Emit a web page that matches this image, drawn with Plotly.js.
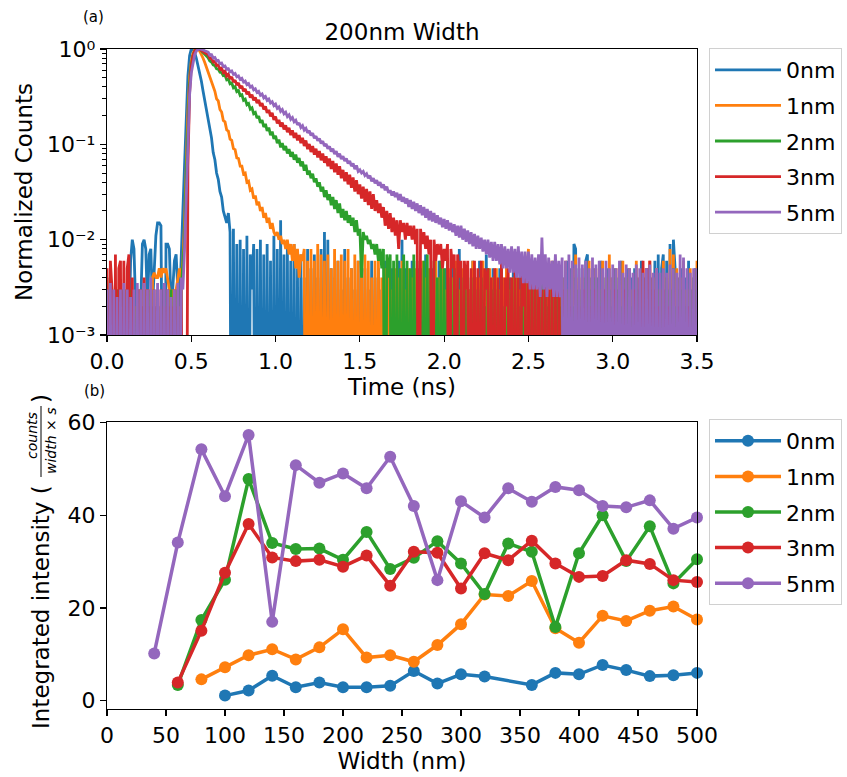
<!DOCTYPE html>
<html>
<head>
<meta charset="utf-8">
<script src="https://cdn.plot.ly/plotly-3.0.1.min.js"></script>
<style>
  html, body { margin: 0; padding: 0; background: #ffffff; }
  #chart { width: 847px; height: 777px; }
</style>
</head>
<body>
<div id="chart"></div>
<script>
// ---------------- DATA ----------------
const seriesNames = ['0nm', '1nm', '2nm', '3nm', '5nm'];

// (a) decay histograms: counts per 0.01 ns bin, 0.00 ... 3.50 ns (351 bins); peak bin = 1000 counts
// one line = 0.1 ns (10 bins)
const BIN_NS = 0.01;
const counts0nm = [
  2, 0, 3, 0, 2, 1, 0, 3, 0, 2,
  3, 0, 2, 1, 6, 10, 8, 2, 0, 3,
  2, 9, 10, 8, 2, 7, 8, 2, 5, 11,
  15, 15, 14, 2, 0, 9, 9, 8, 2, 3,
  6, 7, 3, 2, 8, 20, 60, 200, 520, 850,
  1000, 990, 920, 800, 680, 580, 460, 360, 290, 225,
  185, 140, 117, 82, 69, 50, 43, 32, 28, 20,
  17, 15, 19, 12, 0, 13, 0, 9, 0, 10,
  0, 8, 0, 11, 0, 7, 3, 9, 0, 8,
  0, 10, 0, 7, 0, 9, 0, 6, 0, 11,
  0, 8, 0, 16, 0, 7, 0, 9, 0, 6,
  0, 9, 0, 5, 0, 7, 0, 4, 0, 8,
  0, 5, 0, 7, 0, 4, 0, 8, 0, 12,
  0, 10, 0, 5, 0, 4, 0, 6, 0, 3,
  0, 8, 0, 4, 0, 5, 0, 3, 0, 6,
  0, 4, 0, 5, 0, 3, 0, 6, 0, 4,
  0, 5, 0, 3, 0, 6, 0, 4, 0, 5,
  0, 4, 0, 6, 0, 10, 0, 5, 0, 3,
  0, 6, 0, 4, 0, 5, 0, 3, 0, 7,
  0, 4, 0, 5, 0, 3, 0, 6, 0, 4,
  0, 5, 0, 4, 0, 6, 0, 3, 0, 8,
  0, 4, 0, 5, 0, 3, 0, 6, 0, 4,
  0, 6, 0, 4, 0, 7, 0, 3, 0, 5,
  0, 4, 0, 5, 0, 3, 0, 6, 0, 4,
  0, 5, 0, 3, 0, 6, 0, 4, 0, 5,
  0, 4, 0, 6, 0, 3, 0, 5, 0, 4,
  0, 5, 0, 3, 0, 6, 0, 4, 0, 5,
  0, 4, 0, 6, 0, 5, 0, 9, 8, 0,
  5, 0, 4, 0, 6, 7, 0, 4, 0, 5,
  0, 4, 0, 6, 0, 3, 0, 5, 0, 4,
  0, 5, 0, 3, 0, 6, 0, 4, 0, 5,
  0, 4, 0, 5, 0, 3, 0, 6, 0, 4,
  0, 5, 0, 4, 0, 6, 0, 7, 0, 5,
  7, 0, 6, 0, 9, 0, 10, 5, 0, 4,
  0, 5, 0, 4, 0, 6, 0, 3, 0, 5,
  4
];
const counts1nm = [
  2, 0, 3, 0, 2, 0, 3, 1, 0, 2,
  0, 3, 0, 2, 0, 3, 0, 2, 0, 3,
  0, 2, 0, 3, 0, 3, 0, 4, 4.5, 4,
  4, 5, 4, 5, 4.5, 5, 4, 3, 0, 3,
  0, 3, 4, 5, 4, 6, 15, 60, 220, 500,
  750, 900, 980, 1000, 990, 950, 880, 800, 720, 640,
  575, 500, 460, 390, 360, 300, 285, 232, 218, 178,
  172, 142, 138, 113, 110, 90, 88, 72, 71, 59,
  59, 49, 50, 40, 41, 33, 34, 27, 29, 23,
  25, 20, 22, 17, 19, 15, 17, 13, 15, 12,
  11, 12, 10, 11, 9, 10, 8, 10, 7, 9,
  6, 9, 5, 8, 4, 7, 6, 8, 0, 6,
  0, 8, 0, 6, 0, 9, 0, 7, 0, 6,
  0, 7, 0, 5, 0, 8, 0, 6, 0, 7,
  0, 6, 0, 8, 0, 5, 0, 7, 0, 6,
  0, 5, 0, 7, 0, 6, 0, 4, 0, 6,
  0, 6, 0, 4, 0, 5, 0, 6, 0, 3,
  0, 5, 0, 4, 0, 6, 0, 3, 0, 5,
  0, 4, 0, 5, 0, 3, 0, 6, 0, 4,
  0, 5, 0, 3, 0, 6, 0, 4, 0, 5,
  0, 3, 0, 5, 0, 4, 0, 6, 0, 3,
  0, 5, 0, 4, 0, 3, 0, 6, 0, 4,
  0, 4, 0, 6, 0, 3, 0, 5, 0, 4,
  0, 5, 0, 3, 0, 4, 0, 6, 0, 3,
  0, 4, 0, 5, 0, 3, 0, 6, 0, 4,
  8, 0, 5, 0, 4, 0, 6, 0, 3, 0,
  5, 0, 4, 0, 6, 0, 3, 0, 5, 0,
  4, 0, 6, 0, 3, 0, 5, 0, 7, 0,
  4, 0, 5, 0, 3, 0, 6, 0, 4, 0,
  5, 0, 3, 0, 6, 0, 4, 0, 7, 0,
  4, 0, 5, 0, 3, 0, 6, 0, 4, 0,
  5, 0, 3, 0, 6, 0, 4, 0, 5, 0,
  3, 0, 6, 0, 4, 0, 5, 0, 3, 0,
  6, 0, 4, 0, 8, 0, 7, 0, 5, 0,
  4, 0, 6, 0, 3, 0, 5, 0, 4, 0,
  6
];
const counts2nm = [
  4, 0, 3, 0, 2, 0, 3, 0, 2, 0,
  3, 0, 2, 0, 3, 0, 2, 0, 3, 0,
  2, 0, 3, 0, 2, 0, 3, 0, 2, 0,
  3, 0, 2, 0, 3, 0, 2, 0, 3, 0,
  2, 0, 3, 0, 3, 5, 10, 45, 180, 420,
  680, 850, 950, 990, 1000, 990, 960, 920, 880, 840,
  810, 750, 730, 680, 670, 620, 615, 570, 567, 525,
  530, 475, 485, 432, 440, 392, 402, 357, 366, 325,
  332, 290, 298, 260, 268, 234, 241, 210, 216, 188,
  198, 168, 180, 152, 164, 138, 150, 125, 136, 114,
  123, 103, 112, 93, 103, 87, 96, 80, 89, 74,
  83, 69, 78, 64, 72, 59, 66, 53, 61, 48,
  53, 44, 49, 40, 44, 36, 40, 32, 36, 28,
  33, 26, 30, 23, 28, 21, 26, 19, 24, 17,
  21, 16, 20, 15, 18, 14, 17, 12, 16, 11,
  13, 4, 12, 10, 11, 9, 10, 8, 9, 7,
  9, 6, 8, 5, 8, 0, 7, 4, 7, 0,
  6, 0, 7, 0, 5, 0, 7, 0, 6, 0,
  5, 0, 7, 0, 6, 0, 5, 0, 6, 0,
  7, 0, 5, 0, 6, 0, 4, 0, 6, 0,
  5, 0, 6, 0, 4, 0, 5, 0, 3, 0,
  4, 0, 5, 0, 3, 0, 4, 0, 5, 0,
  3, 0, 4, 0, 2, 0, 5, 0, 3, 0,
  4, 0, 3, 0, 5, 0, 2, 0, 4, 0,
  3, 0, 4, 0, 2, 0, 3, 0, 5, 0,
  2, 0, 4, 0, 3, 0, 2, 0, 4, 0,
  3, 0, 2, 0, 4, 0, 3, 0, 5, 0,
  2, 0, 4, 0, 3, 0, 2, 0, 4, 0,
  3, 0, 2, 0, 4, 0, 3, 0, 2, 0,
  4, 0, 3, 0, 2, 0, 4, 0, 3, 0,
  2, 0, 4, 0, 3, 0, 2, 0, 4, 0,
  3, 0, 2, 0, 4, 0, 3, 0, 2, 0,
  4, 0, 3, 0, 2, 0, 4, 0, 3, 0,
  2, 0, 4, 0, 3, 0, 5, 0, 2, 0,
  3, 0, 4, 0, 2, 0, 3, 0, 4, 0,
  3
];
const counts3nm = [
  5, 0, 6, 3, 0, 7, 0, 5, 6, 0,
  6, 0, 5, 7, 0, 4, 0, 0, 3, 0,
  3, 0, 4, 0, 3, 0, 2, 0, 3, 0,
  2, 0, 3, 0, 2, 0, 3, 0, 2, 0,
  3, 0, 2, 0, 3, 0, 0, 0, 60, 350,
  650, 850, 950, 990, 1000, 990, 970, 940, 910, 880,
  870, 795, 800, 730, 740, 670, 680, 615, 630, 565,
  585, 520, 545, 485, 510, 450, 472, 418, 440, 388,
  410, 360, 382, 335, 356, 310, 331, 290, 310, 270,
  292, 252, 270, 232, 250, 214, 230, 196, 214, 180,
  196, 166, 181, 153, 169, 143, 158, 134, 149, 125,
  140, 117, 132, 110, 125, 103, 117, 96, 110, 89,
  101, 83, 96, 78, 90, 73, 85, 68, 80, 64,
  75, 59, 71, 55, 67, 51, 63, 48, 59, 44,
  54, 41, 51, 38, 48, 35, 45, 32, 42, 30,
  38, 27, 36, 25, 34, 23, 32, 21, 30, 20,
  26, 19, 24, 17, 22, 14, 20, 13, 19, 12,
  17, 11, 16, 8, 16, 12, 15, 10, 15, 11,
  14, 10, 14, 9, 13, 0, 13, 9, 12, 8,
  11, 7, 10, 0, 10, 6, 9, 7, 9, 5,
  8, 6, 9, 0, 8, 5, 7, 0, 7, 4,
  6, 0, 6, 3, 6, 0, 5, 0, 6, 0,
  5, 0, 6, 0, 5, 3, 5, 0, 4, 0,
  5, 0, 4, 0, 6, 0, 4, 2, 5, 0,
  4, 0, 5, 0, 4, 0, 5, 2, 4, 0,
  4, 0, 3.5, 0, 4, 0, 3.5, 0, 3, 0,
  3.5, 0, 3, 0, 3.5, 0, 3, 0, 3, 0,
  3, 0, 0, 0, 0, 2, 0, 0, 3, 0,
  2, 0, 0, 3, 0, 0, 2, 0, 0, 3,
  0, 0, 2, 0, 0, 3, 0, 0, 2, 0,
  0, 3, 0, 0, 2, 0, 0, 3, 0, 0,
  2, 0, 0, 3, 0, 0, 4, 0, 6, 0,
  5, 0, 6, 0, 3, 0, 0, 2, 0, 0,
  3, 0, 0, 2, 0, 0, 3, 0, 0, 2,
  0, 0, 3, 0, 0, 2, 0, 0, 3, 0,
  0
];
const counts5nm = [
  3, 0, 3.5, 0, 3, 0, 2.5, 0, 3, 0,
  3.5, 0, 3, 0, 2.5, 0, 3, 0, 3.5, 0,
  3, 0, 3.5, 0, 3, 0, 4, 0, 3, 0,
  3.5, 0, 3, 0, 3.5, 0, 3, 0, 2.5, 0,
  3, 0, 3.5, 0, 4, 3, 8, 30, 120, 330,
  560, 740, 870, 950, 990, 1000, 995, 980, 960, 940,
  930, 860, 870, 805, 815, 750, 760, 700, 712, 655,
  665, 612, 622, 575, 588, 542, 554, 510, 522, 480,
  492, 450, 462, 423, 434, 397, 408, 373, 383, 350,
  360, 327, 338, 307, 318, 289, 299, 271, 280, 255,
  264, 238, 247, 222, 232, 209, 217, 195, 204, 183,
  191, 172, 179, 160, 168, 150, 157, 141, 147, 132,
  139, 124, 131, 116, 122, 109, 115, 102, 108, 96,
  101, 90, 95, 84, 90, 79, 85, 74, 80, 70,
  75, 67, 71, 63, 67, 59, 63, 55, 60, 52,
  54, 50, 52, 47, 49, 44, 47, 41, 44, 39,
  42, 37, 40, 35, 38, 33, 36, 31, 33, 29,
  32, 28, 31, 26, 30, 25, 28, 24, 27, 22,
  26, 21, 25, 20, 24, 19, 23, 18, 22, 17,
  21, 16, 20, 15.5, 19, 15, 18, 14.5, 17, 13.5,
  16.5, 13, 16, 12.5, 15, 12, 14.5, 11, 14, 10.5,
  14, 10, 13, 9.5, 12.5, 9, 12, 8.5, 11.5, 8,
  11, 8, 10.5, 7.5, 10, 7, 10, 6.5, 9.5, 6,
  9.5, 6, 9, 5.5, 9, 5, 8.5, 5, 8, 4.5,
  8.5, 4.5, 8, 4, 8.5, 4, 7.5, 3.5, 7.5, 3.5,
  7.5, 3, 7, 3, 6.5, 3, 7, 2.5, 10.5, 3,
  7, 2.5, 6.5, 3, 6, 2.5, 7, 2.5, 6, 2.5,
  6.5, 0, 6, 0, 7, 0, 6, 0, 5.5, 0,
  6.5, 0, 5.5, 0, 6, 0, 5, 0, 6.5, 0,
  5.5, 0, 6, 0, 5, 0, 6, 0, 5, 0,
  5.5, 0, 5, 0, 6, 0, 4.5, 0, 5.5, 0,
  5, 0, 4.5, 0, 5.5, 0, 5, 0, 4.5, 0,
  5, 0, 5.5, 0, 4.5, 0, 5, 0, 4.5, 0,
  5, 0, 4.5, 0, 5.5, 0, 5, 0, 4.5, 0,
  7, 0, 6.5, 0, 5, 0, 4.5, 0, 5, 0,
  5
];

// (b) integrated intensity vs width
const widths0nm = [100, 120, 140, 160, 180, 200, 220, 240, 260, 280, 300, 320, 360, 380, 400, 420, 440, 460, 480, 500];
const intensity0nm = [1.1, 2.2, 5.4, 2.9, 3.9, 2.9, 2.9, 3.2, 6.4, 3.7, 5.7, 5.2, 3.4, 6.0, 5.7, 7.7, 6.6, 5.3, 5.5, 6.0];
const widths1nm = [80, 100, 120, 140, 160, 180, 200, 220, 240, 260, 280, 300, 320, 340, 360, 380, 400, 420, 440, 460, 480, 500];
const intensity1nm = [4.6, 7.2, 9.8, 11.1, 8.9, 11.5, 15.4, 9.3, 9.8, 8.4, 12.0, 16.5, 22.9, 22.6, 25.8, 15.6, 12.5, 18.3, 17.2, 19.4, 20.3, 17.5];
const widths2nm = [60, 80, 100, 120, 140, 160, 180, 200, 220, 240, 260, 280, 300, 320, 340, 360, 380, 400, 420, 440, 460, 480, 500];
const intensity2nm = [3.4, 17.4, 26.1, 47.8, 34.0, 32.7, 32.8, 30.4, 36.4, 28.4, 30.8, 34.4, 29.6, 23.0, 33.9, 32.1, 15.9, 31.8, 40.0, 30.1, 37.6, 25.3, 30.5];
const widths3nm = [60, 80, 100, 120, 140, 160, 180, 200, 220, 240, 260, 280, 300, 320, 340, 360, 380, 400, 420, 440, 460, 480, 500];
const intensity3nm = [3.9, 15.1, 27.6, 38.1, 30.9, 30.1, 30.4, 28.9, 31.3, 24.8, 32.1, 31.9, 24.2, 31.8, 30.3, 34.5, 29.6, 26.7, 26.9, 30.3, 29.5, 26.0, 25.6];
const widths5nm = [40, 60, 80, 100, 120, 140, 160, 180, 200, 220, 240, 260, 280, 300, 320, 340, 360, 380, 400, 420, 440, 460, 480, 500];
const intensity5nm = [10.2, 34.1, 54.2, 44.1, 57.3, 17.0, 50.8, 47.0, 49.0, 45.8, 52.6, 42.0, 26.0, 43.0, 39.5, 45.8, 42.9, 46.1, 45.4, 42.0, 41.7, 43.2, 37.1, 39.5];

const timeTicks = [0, 0.5, 1.0, 1.5, 2.0, 2.5, 3.0, 3.5];
const timeTickText = ['0.0', '0.5', '1.0', '1.5', '2.0', '2.5', '3.0', '3.5'];
const countTicks = [0.001, 0.01, 0.1, 1];
const countTickText = ['10\u207B\u00B3', '10\u207B\u00B2', '10\u207B\u00B9', '10\u2070'];

// ---------------- STYLE ----------------
const colors = ['#1f77b4', '#ff7f0e', '#2ca02c', '#d62728', '#9467bd'];
const FONT = 'DejaVu Sans, sans-serif';
const LOG_CLIP = 1e-6; // zero-count bins are clipped far below the log axis (as matplotlib does)

function normalize(arr) {
  const m = Math.max(...arr);
  return arr.map(v => (v > 0 ? v / m : LOG_CLIP));
}
function binTimes(n) { // bin grid: 0, BIN_NS, 2*BIN_NS ...
  const t = [];
  for (let i = 0; i < n; i++) t.push(+(i * BIN_NS).toFixed(2));
  return t;
}

const decayCounts = [counts0nm, counts1nm, counts2nm, counts3nm, counts5nm];
const widthSets = [widths0nm, widths1nm, widths2nm, widths3nm, widths5nm];
const intensitySets = [intensity0nm, intensity1nm, intensity2nm, intensity3nm, intensity5nm];

const traces = [];
decayCounts.forEach((c, i) => {
  traces.push({
    type: 'scatter', mode: 'lines', name: seriesNames[i],
    x: binTimes(c.length), y: normalize(c),
    line: { color: colors[i], width: 2.8 },
    xaxis: 'x', yaxis: 'y', legend: 'legend', legendgroup: 'a' + i,
    hoverinfo: 'skip'
  });
});
intensitySets.forEach((v, i) => {
  traces.push({
    type: 'scatter', mode: 'lines+markers', name: seriesNames[i],
    x: widthSets[i], y: v,
    line: { color: colors[i], width: 3.5 },
    marker: { color: colors[i], size: 12 },
    xaxis: 'x2', yaxis: 'y2', legend: 'legend2', legendgroup: 'b' + i,
    cliponaxis: false
  });
});

const L = 107, R = 150, T = 49, B = 68, W = 847, H = 777;
const PW = W - L - R, PH = H - T - B;
const px2x = px => (px - L) / PW;
const py2y = py => (H - B - py) / PH;

const axisCommon = {
  showline: true, linecolor: '#000', linewidth: 1.2, mirror: true,
  ticks: 'outside', ticklen: 6, tickwidth: 1.2, tickcolor: '#000',
  showgrid: false, zeroline: false,
  tickfont: { family: FONT, size: 22, color: '#000' }
};

const layout = {
  width: W, height: H,
  margin: { l: L, r: R, t: T, b: B, autoexpand: false },
  paper_bgcolor: '#ffffff', plot_bgcolor: '#ffffff',
  font: { family: FONT, color: '#000', size: 22 },
  showlegend: true,
  title: {
    text: '200nm Width', font: { family: FONT, size: 23, color: '#000' },
    xref: 'paper', x: 0.5, xanchor: 'center',
    yref: 'container', y: 1 - 32 / H, yanchor: 'middle'
  },
  xaxis: Object.assign({}, axisCommon, {
    domain: [0, 1], anchor: 'y', range: [0, 3.5],
    tickmode: 'array', tickvals: timeTicks, ticktext: timeTickText,
    title: { text: 'Time (ns)', font: { family: FONT, size: 23 }, standoff: 4 }
  }),
  yaxis: Object.assign({}, axisCommon, {
    domain: [py2y(335), 1], anchor: 'x', type: 'log', range: [-3, 0],
    tickmode: 'array', tickvals: countTicks, ticktext: countTickText,
    minor: { ticks: 'outside', ticklen: 3.5, tickwidth: 1, tickcolor: '#000', dtick: 'D1', showgrid: false },
    title: { text: 'Normalized Counts', font: { family: FONT, size: 23 }, standoff: 8 }
  }),
  xaxis2: Object.assign({}, axisCommon, {
    domain: [0, 1], anchor: 'y2', range: [0, 500], tick0: 0, dtick: 50,
    title: { text: 'Width (nm)', font: { family: FONT, size: 23 }, standoff: 4 }
  }),
  yaxis2: Object.assign({}, axisCommon, {
    domain: [0, py2y(422)], anchor: 'x2', range: [-1.79, 60.1], tick0: 0, dtick: 20
  }),
  legend: {
    x: px2x(709), y: py2y(48), xanchor: 'left', yanchor: 'top',
    bgcolor: '#ffffff', bordercolor: '#d0d0d0', borderwidth: 1, itemwidth: 66,
    font: { family: FONT, size: 22, color: '#000' }, tracegroupgap: 4
  },
  legend2: {
    x: px2x(709), y: py2y(419), xanchor: 'left', yanchor: 'top',
    bgcolor: '#ffffff', bordercolor: '#d0d0d0', borderwidth: 1, itemwidth: 66,
    font: { family: FONT, size: 22, color: '#000' }, tracegroupgap: 4
  },
  annotations: [
    { text: '(a)', xref: 'paper', yref: 'paper', x: px2x(93), y: py2y(17), showarrow: false,
      font: { family: FONT, size: 15, color: '#000' }, xanchor: 'center', yanchor: 'middle' },
    { text: '(b)', xref: 'paper', yref: 'paper', x: px2x(94), y: py2y(391), showarrow: false,
      font: { family: FONT, size: 15, color: '#000' }, xanchor: 'center', yanchor: 'middle' },
    { text: 'Integrated intensity (', xref: 'paper', yref: 'paper', x: px2x(41), y: py2y(607),
      textangle: -90, showarrow: false, font: { family: FONT, size: 23, color: '#000' },
      xanchor: 'center', yanchor: 'middle' },
    { text: '<i>counts</i>', xref: 'paper', yref: 'paper', x: px2x(32), y: py2y(436),
      textangle: -90, showarrow: false, font: { family: FONT, size: 14, color: '#000' },
      xanchor: 'center', yanchor: 'middle' },
    { text: '<i>width</i> \u00d7 <i>s</i>', xref: 'paper', yref: 'paper', x: px2x(51), y: py2y(441),
      textangle: -90, showarrow: false, font: { family: FONT, size: 14, color: '#000' },
      xanchor: 'center', yanchor: 'middle' },
    { text: ')', xref: 'paper', yref: 'paper', x: px2x(41), y: py2y(399),
      textangle: -90, showarrow: false, font: { family: FONT, size: 23, color: '#000' },
      xanchor: 'center', yanchor: 'middle' }
  ],
  shapes: [
    { type: 'line', xref: 'paper', yref: 'paper', x0: px2x(41), x1: px2x(41), y0: py2y(406), y1: py2y(477),
      line: { color: '#000', width: 1 } }
  ]
};

Plotly.newPlot('chart', traces, layout, { staticPlot: true, displayModeBar: false });
</script>
</body>
</html>
